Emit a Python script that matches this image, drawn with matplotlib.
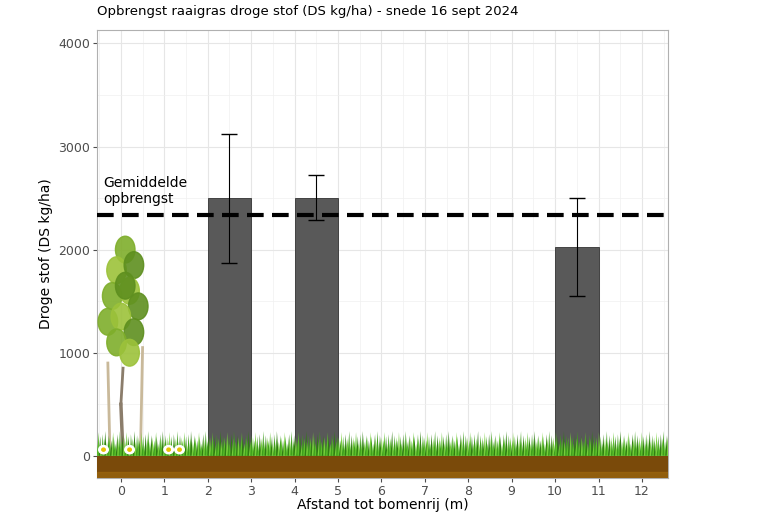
import matplotlib
matplotlib.use("Agg")
import matplotlib.pyplot as plt
import numpy as np
from matplotlib.patches import Polygon, Ellipse, Rectangle

afstand = [2.5, 4.5, 10.5]
opbrengst = [2500, 2505, 2030]
fout_laag = [1870, 2290, 1555]
fout_hoog = [3125, 2720, 2500]
gemiddelde = 2340
xticks = list(range(0, 13))
yticks = [0, 1000, 2000, 3000, 4000]

fig = plt.figure(figsize=(7.68, 5.12), dpi=100)
ax = fig.add_axes([97/768, 1-478/512, (668-97)/768, (478-30)/512])
ax.set_xlim(-0.55, 12.6)
ax.set_ylim(-215, 4130)
ax.set_xticks(xticks)
ax.set_yticks(yticks)
ax.set_xticks(np.arange(-0.5, 12.6, 1), minor=True)
ax.set_yticks(np.arange(500, 4130, 1000), minor=True)
ax.grid(True, which="major", color="#e6e6e6", lw=0.8)
ax.grid(True, which="minor", color="#f0f0f0", lw=0.5)
ax.set_axisbelow(True)
for s in ax.spines.values():
    s.set_color("#b0b0b0"); s.set_linewidth(0.8)
ax.tick_params(colors="#4d4d4d", labelsize=9, length=3, pad=2)
ax.tick_params(which="minor", length=0)

ax.bar(afstand, opbrengst, width=1.0, color="#595959", edgecolor="#333333", lw=0.6, zorder=2)
err = [np.array(opbrengst)-np.array(fout_laag), np.array(fout_hoog)-np.array(opbrengst)]
ax.errorbar(afstand, opbrengst, yerr=err, fmt="none", ecolor="black", capsize=6, lw=0.8, zorder=3)
ax.axhline(gemiddelde, color="black", lw=3, ls=(0, (4, 2)), zorder=4)
ax.text(-0.4, 2420, "Gemiddelde\nopbrengst", fontsize=10, va="bottom", ha="left", zorder=5)

# ground and grass
ax.add_patch(Rectangle((-0.55, -215), 13.2, 215, color="#7a4a0a", zorder=5))
ax.add_patch(Rectangle((-0.55, -215), 13.2, 60, color="#a06a10", zorder=5, alpha=0.6))
rng_x = np.linspace(-0.55, 12.6, 400)
hs = [150, 230, 190, 120, 210, 170, 240, 140, 200, 180]
for i, x in enumerate(rng_x):
    h = hs[i % len(hs)]
    col = ["#3f9e1c", "#5cbf2a", "#2f7d12", "#76cf3a"][i % 4]
    ax.add_patch(Polygon([[x-0.03, 0], [x+0.03, 0], [x+0.01*((i % 3)-1), h]], color=col, zorder=6, lw=0))

# tree
ax.plot([0.05, 0.0], [850, 500], color="#8b7d6b", lw=2, zorder=4)
ax.plot([0.0, 0.05], [500, 0], color="#8b7d6b", lw=2.5, zorder=4)
ax.plot([0.5, 0.45], [1050, 0], color="#c9b99a", lw=2, zorder=4)
ax.plot([-0.3, -0.25], [900, 0], color="#c9b99a", lw=2, zorder=4)
leaf_pts = [(0.1, 2000), (-0.1, 1800), (0.3, 1850), (-0.2, 1550), (0.2, 1600), (0.4, 1450),
            (-0.3, 1300), (0.0, 1350), (0.3, 1200), (-0.1, 1100), (0.2, 1000), (0.1, 1650)]
for j, (lx, ly) in enumerate(leaf_pts):
    ax.add_patch(Ellipse((lx, ly), 0.45, 260, color=["#7fae2b", "#9cc23a", "#5e8f1f"][j % 3], zorder=4, alpha=0.9))
for fx in [0.2, 1.1, 1.35, -0.4]:
    ax.add_patch(Ellipse((fx, 60), 0.22, 80, color="white", zorder=7))
    ax.add_patch(Ellipse((fx, 60), 0.08, 30, color="#e6c200", zorder=8))

ax.set_xlabel("Afstand tot bomenrij (m)", fontsize=10, labelpad=0)
ax.set_ylabel("Droge stof (DS kg/ha)", fontsize=10)
fig.text(97/768, 1-12/512, "Opbrengst raaigras droge stof (DS kg/ha) - snede 16 sept 2024", fontsize=9.5, va="center")
fig.savefig("out.png", dpi=100)
